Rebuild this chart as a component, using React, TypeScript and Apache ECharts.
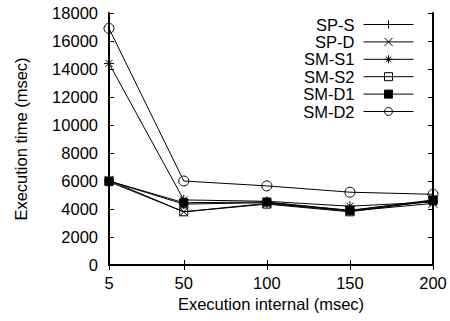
import React, { useEffect, useRef } from "react";
import * as echarts from "echarts";

const xValues = [5, 50, 100, 150, 200];
const xTicks = [5, 50, 100, 150, 200];
const seriesNames = ["SP-S", "SP-D", "SM-S1", "SM-S2", "SM-D1", "SM-D2"];
const spS = [6000, 4350, 4450, 3900, 4550];
const spD = [6050, 3800, 4400, 3850, 4400];
const smS1 = [14400, 4650, 4550, 4200, 4500];
const smS2 = [5950, 3800, 4350, 3800, 4600];
const smD1 = [6000, 4450, 4500, 3900, 4650];
const smD2 = [16900, 6000, 5650, 5200, 5050];

const FONT = "'Liberation Sans', Arial, sans-serif";

const symbols = [
  { symbol: "path://M0,5L10,5M5,0L5,10", size: 10, fill: "#000" },
  { symbol: "path://M0,0L10,10M10,0L0,10", size: 9, fill: "#000" },
  { symbol: "path://M0,5L10,5M5,0L5,10M1.5,1.5L8.5,8.5M8.5,1.5L1.5,8.5", size: 10, fill: "#000" },
  { symbol: "rect", size: 8, fill: "rgba(0,0,0,0)" },
  { symbol: "rect", size: 8, fill: "#000" },
  { symbol: "circle", size: 10, fill: "rgba(0,0,0,0)" },
];

export default function App() {
  const ref = useRef<HTMLDivElement>(null);
  useEffect(() => {
    if (!ref.current) return;
    const chart = echarts.init(ref.current, undefined, { renderer: "svg" });
    const all = [spS, spD, smS1, smS2, smD1, smD2];
    const series = all.map((vals, i) => ({
      name: seriesNames[i],
      type: "line",
      data: vals.map((v, j) => [xValues[j], v]),
      symbol: symbols[i].symbol,
      symbolSize: symbols[i].size,
      showAllSymbol: true,
      clip: false,
      lineStyle: { color: "#000", width: 1 },
      itemStyle: { color: symbols[i].fill, borderColor: "#000", borderWidth: 1 },
      emphasis: { disabled: true },
      z: 2 + i,
    }));
    const axisLine = { show: true, lineStyle: { color: "#000", width: 2 } };
    chart.setOption({
      animation: false,
      backgroundColor: "#fff",
      grid: { left: 109, right: 17, top: 13, bottom: 56, containLabel: false },
      legend: {
        data: seriesNames,
        orient: "vertical",
        align: "right",
        right: 31,
        top: 11,
        itemWidth: 50,
        itemHeight: 10,
        itemGap: 0.4,
        lineStyle: { width: 1, color: "#000" },
        itemStyle: { borderWidth: 1, borderColor: "#000" },
        textStyle: { fontFamily: FONT, fontSize: 16.5, color: "#000", lineHeight: 17, padding: [0, 4, 0, 0] },
        selectedMode: false,
      },
      xAxis: [
        {
          type: "value",
          min: 5,
          max: 200,
          name: "Execution internal (msec)",
          nameLocation: "middle",
          nameGap: 27,
          nameTextStyle: { fontFamily: FONT, fontSize: 16.5, color: "#000" },
          axisLine,
          axisTick: { show: true, inside: true, length: 5, customValues: xTicks, lineStyle: { color: "#000", width: 1 } },
          axisLabel: { customValues: xTicks, fontFamily: FONT, fontSize: 16.5, color: "#000", margin: 9 },
          splitLine: { show: false },
        },
        {
          type: "value",
          position: "top",
          min: 5,
          max: 200,
          axisLine,
          axisTick: { show: true, inside: true, length: 5, customValues: xTicks, lineStyle: { color: "#000", width: 1 } },
          axisLabel: { show: false },
          splitLine: { show: false },
        },
      ],
      yAxis: [
        {
          type: "value",
          min: 0,
          max: 18000,
          interval: 2000,
          name: "Execution time (msec)",
          nameLocation: "middle",
          nameGap: 80,
          nameTextStyle: { fontFamily: FONT, fontSize: 16.5, color: "#000" },
          axisLine,
          axisTick: { show: true, inside: true, length: 5, lineStyle: { color: "#000", width: 1 } },
          axisLabel: { fontFamily: FONT, fontSize: 16.5, color: "#000", margin: 11, formatter: (v: number) => String(v) },
          splitLine: { show: false },
        },
        {
          type: "value",
          position: "right",
          min: 0,
          max: 18000,
          interval: 2000,
          axisLine,
          axisTick: { show: true, inside: true, length: 5, lineStyle: { color: "#000", width: 1 } },
          axisLabel: { show: false },
          splitLine: { show: false },
        },
      ],
      series,
    });
    return () => chart.dispose();
  }, []);
  return <div ref={ref} style={{ width: 450, height: 321, position: "absolute", left: 0, top: 0 }} />;
}
